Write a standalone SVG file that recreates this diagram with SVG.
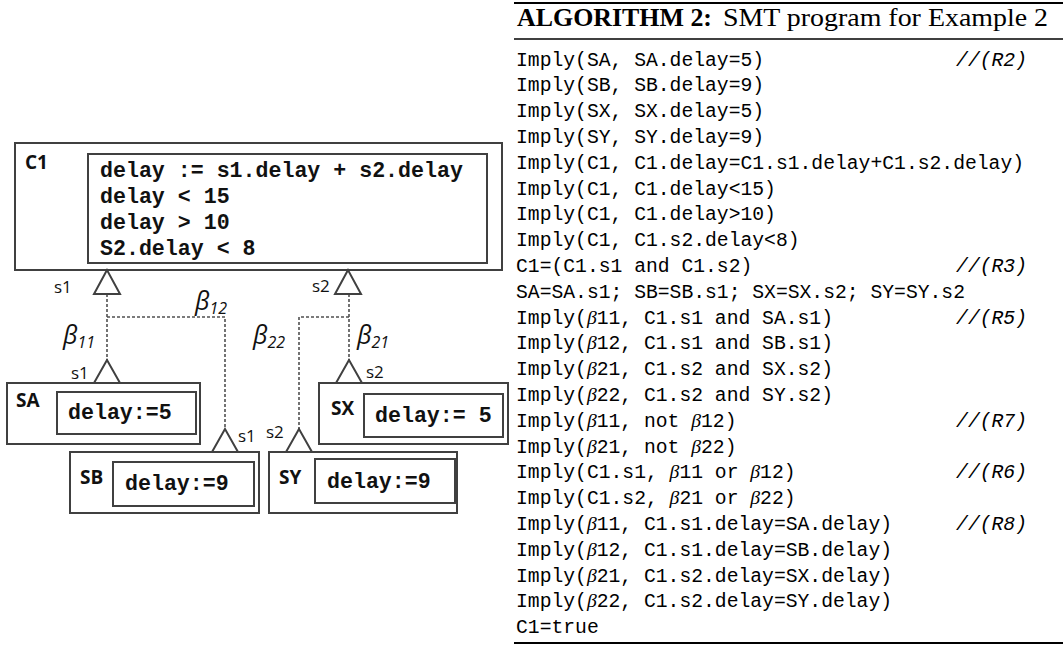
<svg xmlns="http://www.w3.org/2000/svg" width="1063" height="654" viewBox="0 0 1063 654">
<style>
.box{fill:#fff;stroke:#404040;stroke-width:2}
.tri{fill:#fff;stroke:#404040;stroke-width:2;stroke-linejoin:miter}
.dash{fill:none;stroke:#505050;stroke-width:1.6;stroke-dasharray:3 2}
.lbl{font-family:"Open Sans","Liberation Sans",sans-serif;font-weight:bold;font-size:19px;fill:#111}
.port{font-family:"Open Sans","Liberation Sans",sans-serif;font-size:17px;fill:#111}
.beta{font-family:"Open Sans","Liberation Sans",sans-serif;font-style:italic;font-size:25px;fill:#111}
.sub{font-size:16px}
.bc{font-family:"Liberation Mono","Courier New",monospace;font-weight:bold;font-size:21.6px;fill:#111}
.code{font-family:"Liberation Mono","Courier New",monospace;font-size:19.7px;fill:#000}
.gr{font-family:"Liberation Serif","Times New Roman",serif;font-style:italic}
.cm{font-family:"Liberation Mono","Courier New",monospace;font-style:italic;font-size:19.7px;fill:#000}
.hd{font-family:"Liberation Serif","Times New Roman",serif;font-size:25px;fill:#000}
.rule{stroke:#000}
</style>

<g id="C1">
<rect class="box" x="15" y="143" width="487" height="127"/>
<rect class="box" x="88" y="154" width="399" height="109"/>
<text class="lbl" x="25" y="169">C1</text>
<text class="bc" x="100" y="177">delay := s1.delay + s2.delay</text>
<text class="bc" x="100" y="203">delay &lt; 15</text>
<text class="bc" x="100" y="229">delay &gt; 10</text>
<text class="bc" x="100" y="255">S2.delay &lt; 8</text>
</g>

<g id="SA">
<rect class="box" x="7" y="383" width="193" height="61"/>
<rect class="box" x="57" y="392" width="139" height="42"/>
<text class="lbl" x="16" y="407">SA</text>
<text class="bc" x="68" y="419">delay:=5</text>
</g>

<g id="SX">
<rect class="box" x="319" y="383" width="189" height="61"/>
<rect class="box" x="364" y="394" width="139" height="43"/>
<text class="lbl" x="331" y="415">SX</text>
<text class="bc" x="375" y="422">delay:= 5</text>
</g>

<g id="SB">
<rect class="box" x="70" y="452" width="189" height="61"/>
<rect class="box" x="113" y="462" width="141" height="44"/>
<text class="lbl" x="80" y="484">SB</text>
<text class="bc" x="125" y="490">delay:=9</text>
</g>

<g id="SY">
<rect class="box" x="269" y="452" width="188" height="61"/>
<rect class="box" x="315" y="459" width="140" height="44"/>
<text class="lbl" x="279" y="484">SY</text>
<text class="bc" x="327" y="488">delay:=9</text>
</g>

<g id="connectors">
<path class="dash" d="M107 294 V360 M107 317 H225 V429"/>
<path class="dash" d="M349 294 V360 M349 317 H299 V429"/>
<polygon class="tri" points="107,270 94,294 120,294"/>
<polygon class="tri" points="348,270 335,294 361,294"/>
<polygon class="tri" points="107,360 94,383 120,383"/>
<polygon class="tri" points="349,360 336,383 362,383"/>
<polygon class="tri" points="225,429 212,452 238,452"/>
<polygon class="tri" points="299,429 286,452 312,452"/>
<text class="port" x="54" y="293">s1</text>
<text class="port" x="312" y="292">s2</text>
<text class="port" x="71" y="379">s1</text>
<text class="port" x="366" y="378">s2</text>
<text class="port" x="238" y="442">s1</text>
<text class="port" x="266" y="438">s2</text>
<text class="beta" x="63" y="344">β<tspan class="sub" dy="4">11</tspan></text>
<text class="beta" x="195" y="310">β<tspan class="sub" dy="4">12</tspan></text>
<text class="beta" x="253" y="344">β<tspan class="sub" dy="4">22</tspan></text>
<text class="beta" x="357" y="344">β<tspan class="sub" dy="4">21</tspan></text>
</g>

<g id="algorithm">
<line class="rule" x1="514" y1="3" x2="1063" y2="3" stroke-width="2"/>
<text class="hd" x="517" y="26"><tspan font-weight="bold" textLength="195" lengthAdjust="spacingAndGlyphs">ALGORITHM 2:</tspan><tspan x="723" textLength="325" lengthAdjust="spacingAndGlyphs">SMT program for Example 2</tspan></text>
<line class="rule" x1="514" y1="39" x2="1063" y2="39" stroke-width="1.3"/>
<text class="code" x="516" y="65.5">Imply(SA, SA.delay=5)</text>
<text class="code" x="516" y="91.3">Imply(SB, SB.delay=9)</text>
<text class="code" x="516" y="117.1">Imply(SX, SX.delay=5)</text>
<text class="code" x="516" y="142.9">Imply(SY, SY.delay=9)</text>
<text class="code" x="516" y="168.7">Imply(C1, C1.delay=C1.s1.delay+C1.s2.delay)</text>
<text class="code" x="516" y="194.5">Imply(C1, C1.delay&lt;15)</text>
<text class="code" x="516" y="220.3">Imply(C1, C1.delay&gt;10)</text>
<text class="code" x="516" y="246.1">Imply(C1, C1.s2.delay&lt;8)</text>
<text class="code" x="516" y="271.9">C1=(C1.s1 and C1.s2)</text>
<text class="code" x="516" y="297.7">SA=SA.s1; SB=SB.s1; SX=SX.s2; SY=SY.s2</text>
<text class="code" x="516" y="323.5">Imply(<tspan class="gr">β</tspan>11, C1.s1 and SA.s1)</text>
<text class="code" x="516" y="349.3">Imply(<tspan class="gr">β</tspan>12, C1.s1 and SB.s1)</text>
<text class="code" x="516" y="375.1">Imply(<tspan class="gr">β</tspan>21, C1.s2 and SX.s2)</text>
<text class="code" x="516" y="400.9">Imply(<tspan class="gr">β</tspan>22, C1.s2 and SY.s2)</text>
<text class="code" x="516" y="426.7">Imply(<tspan class="gr">β</tspan>11, not <tspan class="gr">β</tspan>12)</text>
<text class="code" x="516" y="452.5">Imply(<tspan class="gr">β</tspan>21, not <tspan class="gr">β</tspan>22)</text>
<text class="code" x="516" y="478.3">Imply(C1.s1, <tspan class="gr">β</tspan>11 or <tspan class="gr">β</tspan>12)</text>
<text class="code" x="516" y="504.1">Imply(C1.s2, <tspan class="gr">β</tspan>21 or <tspan class="gr">β</tspan>22)</text>
<text class="code" x="516" y="529.9">Imply(<tspan class="gr">β</tspan>11, C1.s1.delay=SA.delay)</text>
<text class="code" x="516" y="555.7">Imply(<tspan class="gr">β</tspan>12, C1.s1.delay=SB.delay)</text>
<text class="code" x="516" y="581.5">Imply(<tspan class="gr">β</tspan>21, C1.s2.delay=SX.delay)</text>
<text class="code" x="516" y="607.3">Imply(<tspan class="gr">β</tspan>22, C1.s2.delay=SY.delay)</text>
<text class="code" x="516" y="633.1">C1=true</text>
<line class="rule" x1="514" y1="643" x2="1063" y2="643" stroke-width="2.2"/>
<g class="cm" text-anchor="end">
<text x="1027" y="65.5">//(R2)</text>
<text x="1027" y="271.9">//(R3)</text>
<text x="1027" y="323.5">//(R5)</text>
<text x="1027" y="426.7">//(R7)</text>
<text x="1027" y="478.3">//(R6)</text>
<text x="1027" y="529.9">//(R8)</text>
</g>
</g>
</svg>
